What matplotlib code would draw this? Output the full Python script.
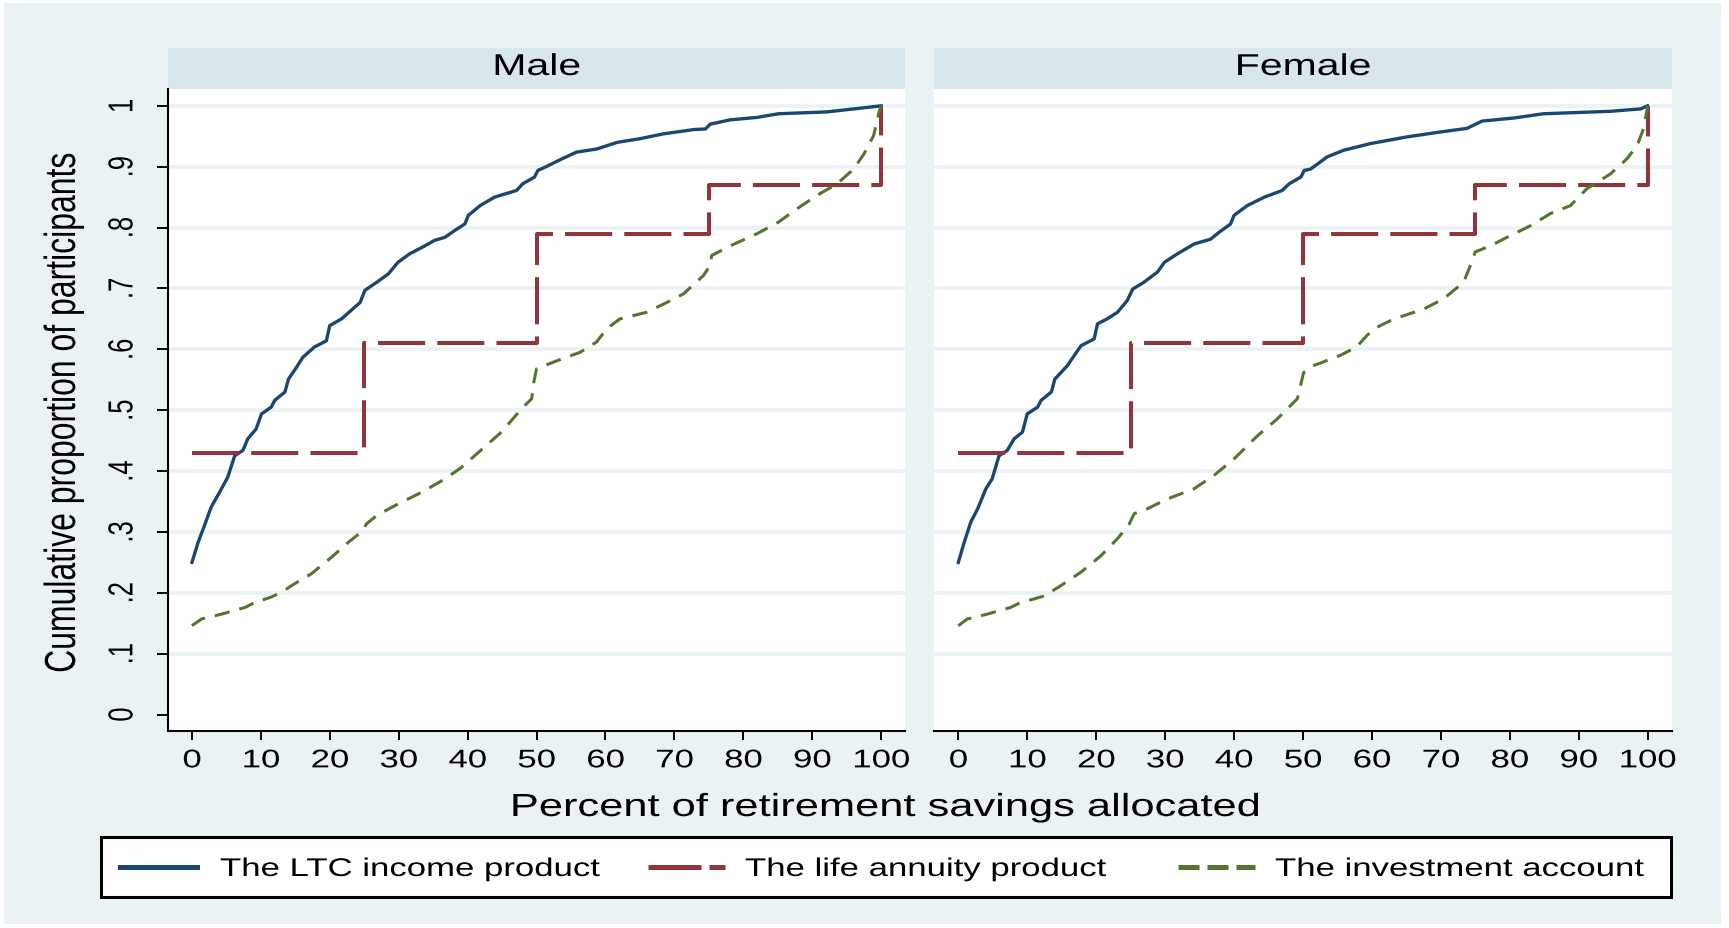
import matplotlib
matplotlib.use("Agg")
import matplotlib.pyplot as plt
from matplotlib.patheffects import AbstractPathEffect
from matplotlib.transforms import Affine2D
from matplotlib.patches import Rectangle
from matplotlib.lines import Line2D

plt.rcParams["font.family"] = ["Liberation Sans", "DejaVu Sans"]

# ── colours (Stata s2color look) ──
BG = "#EAF2F3"
STRIP = "#D9E6EB"
GRID = "#EAF2F3"
BLUE = "#1A476F"
RED = "#90353B"
GREEN = "#55752F"

# ── data ──
PANELS = ["Male", "Female"]
LEGEND_LABELS = ["The LTC income product", "The life annuity product",
                 "The investment account"]
X_TICKS = [0, 10, 20, 30, 40, 50, 60, 70, 80, 90, 100]
Y_TICKS = [0, .1, .2, .3, .4, .5, .6, .7, .8, .9, 1]
Y_TICK_LABELS = ["0", ".1", ".2", ".3", ".4", ".5", ".6", ".7", ".8", ".9", "1"]

# life annuity product: step function (same in both panels)
ANN_X = [0, 25, 50, 75, 100]
ANN_Y_MALE = [0.43, 0.61, 0.79, 0.87, 1.0]
ANN_Y_FEMALE = [0.43, 0.61, 0.79, 0.87, 1.0]

MALE_LTC_X = [0, 0.9, 1.9, 2.8, 4.0, 5.2, 6.2, 7.4, 8.1, 9.3, 10.1, 11.5, 12.0,
              13.5, 14.0, 15.2, 16.1, 17.8, 19.5, 20.0, 21.7, 23.1, 24.4, 25.1,
              26.8, 28.5, 29.9, 31.6, 33.8, 35.2, 36.7, 38.1, 39.6, 40.1, 41.8,
              43.9, 47.1, 48.0, 49.7, 50.2, 51.2, 53.7, 55.8, 58.7, 61.7, 65.0,
              68.4, 72.8, 74.5, 75.2, 78.1, 82.0, 85.1, 92.1, 100]
MALE_LTC_Y = [.250, .283, .313, .341, .365, .390, .425, .434, .453, .469, .494,
              .505, .516, .530, .551, .571, .587, .604, .614, .639, .650, .664,
              .677, .697, .710, .724, .743, .757, .770, .779, .784, .795, .806,
              .820, .836, .850, .861, .872, .883, .894, .899, .913, .924, .929,
              .940, .946, .954, .961, .962, .970, .977, .981, .987, .990, 1.0]

MALE_INV_X = [0, 1.4, 4.3, 7.7, 9.1, 11.5, 13.0, 14.9, 17.3, 20.2, 22.7, 24.8,
              25.3, 26.8, 29.9, 33.3, 36.7, 39.1, 43.0, 44.9, 47.8, 49.3, 49.6,
              50.0, 52.9, 56.3, 58.7, 60.2, 62.1, 66.0, 68.9, 71.3, 74.2, 75.2,
              75.4, 78.1, 82.0, 85.1, 87.8, 90.7, 93.6, 96.0, 97.5, 98.9, 99.7,
              100]
MALE_INV_Y = [.146, .157, .165, .176, .184, .193, .201, .215, .231, .258, .283,
              .302, .313, .327, .346, .365, .387, .406, .445, .464, .502, .519,
              .546, .568, .581, .595, .612, .634, .650, .661, .677, .691, .721,
              .738, .754, .770, .790, .809, .831, .853, .872, .896, .921, .951,
              .990, 1.0]

FEMALE_LTC_X = [0, 0.8, 1.8, 2.8, 4.0, 4.9, 5.9, 7.1, 8.1, 9.3, 10.0, 11.5,
                12.0, 13.5, 14.0, 15.8, 17.8, 19.7, 20.2, 21.6, 23.1, 24.5, 25.3,
                26.9, 28.9, 29.9, 31.8, 34.2, 36.6, 37.8, 39.5, 40.0, 41.9, 44.4,
                47.0, 48.0, 49.7, 50.2, 51.1, 53.5, 55.9, 59.8, 65.1, 69.9, 73.8,
                76.0, 80.6, 84.9, 94.6, 99.0, 100]
FEMALE_LTC_Y = [.250, .281, .316, .338, .371, .387, .425, .434, .453, .464,
                .494, .505, .516, .530, .551, .573, .606, .617, .642, .650,
                .661, .680, .699, .710, .727, .743, .757, .773, .781, .792,
                .806, .820, .836, .850, .861, .872, .883, .894, .896, .916,
                .927, .938, .949, .957, .963, .975, .980, .987, .991, .995, 1.0]

FEMALE_INV_X = [0, 1.3, 4.2, 7.6, 9.0, 11.0, 12.5, 14.9, 17.8, 20.7, 23.1,
                24.8, 25.5, 27.4, 30.3, 34.2, 37.1, 40.0, 43.4, 46.3, 49.2,
                50.1, 51.5, 55.4, 57.8, 59.3, 60.7, 63.2, 67.5, 70.4, 73.3,
                74.3, 75.0, 77.2, 79.6, 83.0, 85.9, 88.8, 91.2, 94.6, 97.0,
                98.5, 99.4, 99.9, 100]
FEMALE_INV_Y = [.146, .157, .165, .176, .184, .190, .195, .212, .234, .261,
                .289, .313, .330, .338, .354, .371, .393, .420, .458, .486,
                .519, .562, .573, .590, .604, .623, .636, .650, .666, .683,
                .710, .738, .760, .770, .784, .803, .823, .836, .864, .888,
                .913, .935, .962, .992, 1.0]

SERIES = [
    (MALE_LTC_X, MALE_LTC_Y, ANN_Y_MALE, MALE_INV_X, MALE_INV_Y),
    (FEMALE_LTC_X, FEMALE_LTC_Y, ANN_Y_FEMALE, FEMALE_INV_X, FEMALE_INV_Y),
]

W, H = 1729, 929
SX = 1.36  # the source graph is horizontally stretched; text follows suit


class Stretch(AbstractPathEffect):
    """Stretch rendered text horizontally (display x) about its centre/left."""

    def __init__(self, sx=SX, anchor="center"):
        super().__init__()
        self.sx = sx
        self.anchor = anchor

    def draw_path(self, renderer, gc, tpath, affine, rgbFace=None):
        v = tpath.vertices
        if len(v):
            xs = affine.transform(v)[:, 0]
            x0 = xs.min() if self.anchor == "left" else 0.5 * (xs.min() + xs.max())
            affine = affine + Affine2D().translate(-x0, 0).scale(self.sx, 1).translate(x0, 0)
        renderer.draw_path(gc, tpath, affine, rgbFace)


def fx(px):
    return px / W


def fy(py):
    return 1 - py / H


fig = plt.figure(figsize=(W / 100, H / 100), dpi=100, facecolor="white")
fig.patches.append(Rectangle((fx(4), fy(925)), (1721 - 4) / W, (925 - 4) / H,
                             transform=fig.transFigure, facecolor=BG,
                             edgecolor="none", zorder=-10))

AX_LEFTS = [167.6, 934.0]
AX_W = 737.7
AX_TOP, AX_BOT = 90.4, 732.0

for i, (title, (lx_, ly_, ann_y, ix_, iy_)) in enumerate(zip(PANELS, SERIES)):
    ax = fig.add_axes([fx(AX_LEFTS[i]), fy(AX_BOT), AX_W / W, (AX_BOT - AX_TOP) / H])
    ax.set_facecolor("white")
    ax.set_xlim(-3.53, 103.5)
    ax.set_ylim(-0.027, 1.027)

    for v in Y_TICKS[1:]:
        ax.axhline(v, color=GRID, lw=2.6, zorder=0.5)

    ax.plot(lx_, ly_, color=BLUE, lw=2.4, zorder=3, solid_joinstyle="round")
    ax.step(ANN_X, ann_y, where="post", color=RED, lw=2.9, dashes=(11.7, 3),
            zorder=3)
    ax.plot(ix_, iy_, color=GREEN, lw=2.2, dashes=(5, 3.3), zorder=3)

    for s in ("top", "right"):
        ax.spines[s].set_visible(False)
    ax.spines["bottom"].set_linewidth(1.5)
    ax.spines["left"].set_linewidth(1.5)

    ax.set_xticks(X_TICKS)
    ax.set_xticklabels([str(t) for t in X_TICKS])
    ax.tick_params(axis="x", length=6.5, width=1.4, labelsize=18.4, pad=6)

    ax.set_yticks(Y_TICKS)
    if i == 0:
        ax.set_yticklabels(Y_TICK_LABELS, rotation=90, va="center")
        ax.tick_params(axis="y", length=8, width=1.4, labelsize=18.4, pad=16)
    else:
        ax.spines["left"].set_visible(False)
        ax.tick_params(axis="y", left=False, labelleft=False)

    for lab in ax.get_xticklabels() + ax.get_yticklabels():
        lab.set_path_effects([Stretch()])

    # facet strip
    strip_h = (AX_TOP - 48.5) / (AX_BOT - AX_TOP)
    ax.add_patch(Rectangle((0, 1), 1, strip_h, transform=ax.transAxes,
                           facecolor=STRIP, edgecolor="none", clip_on=False))
    ax.text(0.5, (AX_BOT - 76) / (AX_BOT - AX_TOP), title,
            transform=ax.transAxes, ha="center", va="baseline",
            fontsize=21.7, path_effects=[Stretch()])

# axis titles
fig.text(fx(885.5), fy(817), "Percent of retirement savings allocated",
         ha="center", va="baseline", fontsize=23, path_effects=[Stretch()])
fig.text(fx(64), fy(413), "Cumulative proportion of participants",
         rotation=90, ha="center", va="center", fontsize=23,
         path_effects=[Stretch()])

# legend (boxed, one row)
fig.patches.append(Rectangle((fx(101), fy(898)), (1671 - 101) / W, 60 / H,
                             transform=fig.transFigure, facecolor="white",
                             edgecolor="black", lw=2.2, zorder=5))
leg_styles = [
    dict(color=BLUE, lw=3.6),
    dict(color=RED, lw=3.6, dashes=(10.6, 1.6)),
    dict(color=GREEN, lw=3.6, dashes=(4.2, 1.6)),
]
handle_x = [120, 648, 1178]
text_x = [220, 745, 1275]
for hx, tx, lab, st in zip(handle_x, text_x, LEGEND_LABELS, leg_styles):
    fig.add_artist(Line2D([fx(hx), fx(hx + 77)], [fy(868), fy(868)],
                          transform=fig.transFigure, zorder=6, **st))
    fig.text(fx(tx), fy(877), lab, ha="left", va="baseline", fontsize=18.4,
             zorder=6, path_effects=[Stretch(anchor="left")])

fig.savefig("out.png", dpi=100, facecolor=fig.get_facecolor())
